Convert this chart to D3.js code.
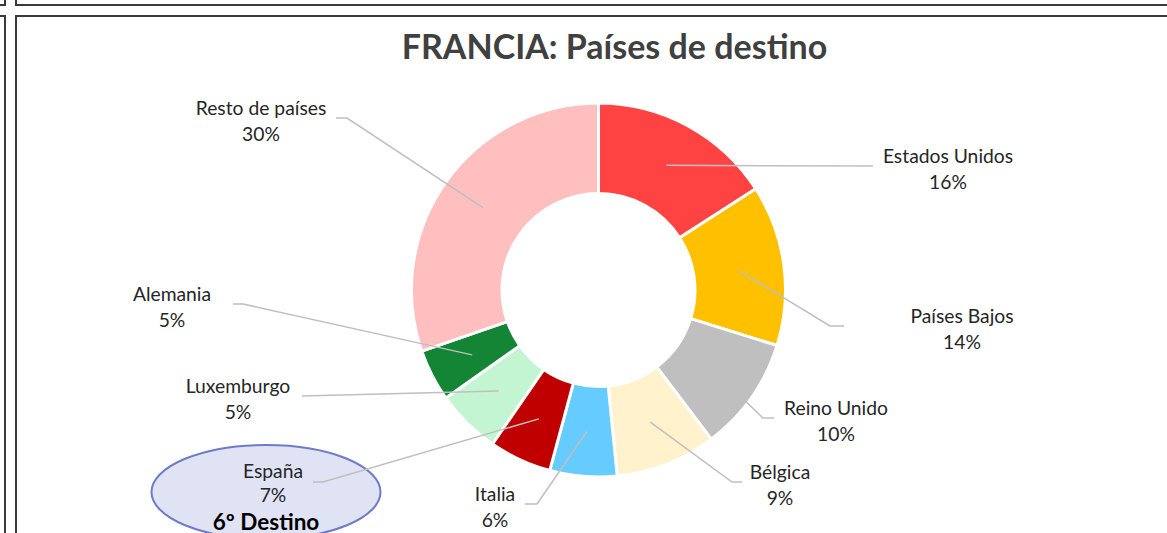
<!DOCTYPE html>
<html><head><meta charset="utf-8">
<script src="https://cdn.jsdelivr.net/npm/d3@7"></script>
<style>
html,body{margin:0;padding:0;background:#fff;overflow:hidden}
svg{display:block}
</style></head>
<body>
<svg id="c" width="1167" height="533"></svg>
<script>
const title = "FRANCIA: Países de destino";
const categories = ["Estados Unidos","Países Bajos","Reino Unido","Bélgica","Italia","España","Luxemburgo","Alemania","Resto de países"];
const values = [15.9, 13.9, 9.9, 8.7, 5.8, 5.4, 5.6, 4.5, 30.3];
const labelTexts = ["16%","14%","10%","9%","6%","7%","5%","5%","30%"];
const colors = ["#FF4343","#FFC000","#BFBFBF","#FFF2CC","#66CCFF","#C00000","#C3F5D3","#138535","#FFBFBF"];
const highlight = "6º Destino";

// label layout: [labelX, labelY, elbowX, elbowY, endX, lineGap]
const labelLayout = [
  [948,155,873,166,873,26],
  [962,315,830,326,844,26],
  [836,407,763,418,774,26],
  [780,471,732,482,742,26],
  [495,493,537,504,525,26],
  [273,470.5,323,482,313,24],
  [238,385,302,396,302,26],
  [172,293,243,304,233,26],
  [261,107,347,118,336,26]
];

const svg = d3.select("#c");
const FONT = "Lato, 'Open Sans', sans-serif";

// frame lines
const frame = svg.append("g").attr("stroke","#3a3a3a").attr("stroke-width",2).attr("fill","none");
frame.append("path").attr("d","M5,0V5H0");
frame.append("path").attr("d","M16,0V5H1167");
frame.append("path").attr("d","M1167,16H16V533");
frame.append("path").attr("d","M0,16H5V533");

svg.append("text").attr("x",614.5).attr("y",45).attr("text-anchor","middle")
  .attr("dominant-baseline","central").attr("font-family",FONT).attr("font-weight","bold")
  .attr("font-size",34).attr("fill","#404040").text(title);

const cx = 598.5, cy = 290, R = 187, r = 96.5;
const pie = d3.pie().sort(null).value(d=>d)(values);
const arc = d3.arc().innerRadius(r).outerRadius(R);
const g = svg.append("g").attr("transform",`translate(${cx},${cy})`);
g.selectAll("path").data(pie).join("path")
  .attr("d",arc).attr("fill",(d,i)=>colors[i])
  .attr("stroke","#fff").attr("stroke-width",3).attr("stroke-linejoin","miter");

// highlight ellipse for España
svg.append("ellipse").attr("cx",266).attr("cy",492).attr("rx",114.5).attr("ry",47)
  .attr("fill","#E0E3F3").attr("stroke","#6E7BC9").attr("stroke-width",2);

// leader lines
const mid = d3.arc().innerRadius(142).outerRadius(142);
pie.forEach((d,i)=>{
  const [sx,sy] = mid.centroid(d);
  const L = labelLayout[i];
  svg.append("polyline")
    .attr("points",`${cx+sx},${cy+sy} ${L[2]},${L[3]} ${L[4]},${L[3]}`)
    .attr("fill","none").attr("stroke","#BFBFBF").attr("stroke-width",1.5);
});

// labels
const lab = svg.append("g").attr("font-family",FONT).attr("font-size",19.3).attr("fill","#262626").attr("text-anchor","middle");
categories.forEach((c,i)=>{
  const L = labelLayout[i];
  lab.append("text").attr("x",L[0]).attr("y",L[1]).attr("dominant-baseline","central").text(c);
  lab.append("text").attr("x",L[0]).attr("y",L[1]+L[5]).attr("dominant-baseline","central").text(labelTexts[i]);
});
svg.append("text").attr("x",266).attr("y",521).attr("text-anchor","middle").attr("dominant-baseline","central")
  .attr("font-family",FONT).attr("font-weight","bold").attr("font-size",22.5).attr("fill","#000").text(highlight);
</script>
</body></html>
